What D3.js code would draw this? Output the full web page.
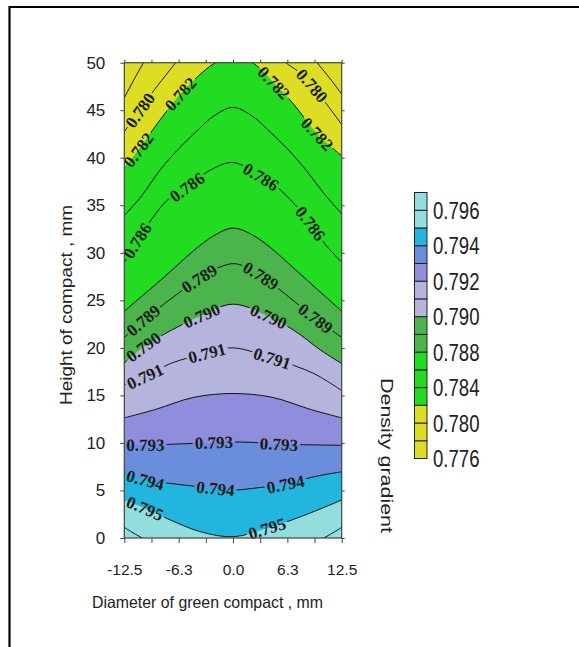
<!DOCTYPE html>
<html><head><meta charset="utf-8">
<script src="https://cdn.jsdelivr.net/npm/d3@7"></script>
<style>body{margin:0;background:#fff}svg{display:block}</style>
</head><body>
<script>
// ---------- data ----------
const xTickValues = [-12.5,-9.375,-6.25,-3.125,0,3.125,6.25,9.375,12.5];
const xTickLabels = ["-12.5","","-6.3","","0.0","","6.3","","12.5"];
const yTickValues = [0,5,10,15,20,25,30,35,40,45,50];
const colorbarLevels = [0.776,0.778,0.780,0.782,0.784,0.786,0.788,0.789,0.790,0.791,0.792,0.793,0.794,0.795,0.796,0.797];
const colorbarTickLevels = [0.776,0.780,0.784,0.788,0.790,0.792,0.794,0.796];
const colorbarTickLabels = ["0.776","0.780","0.784","0.788","0.790","0.792","0.794","0.796"];
const fillThresholds = [0.782,0.788,0.790,0.792,0.793,0.794,0.795];
const palette = ["#dddd24","#22dc22","#4cb44c","#b4b4dc","#8e8edc","#6b8edc","#22b5dd","#94dddd"];

// contour lines: [diameter, height]
const c0778a = [[-12.5,46.3],[-11.4,48.2],[-10.3,50.0],[-10.0,50.5]];
const c0778b = [[9.4,50.5],[9.7,50.0],[11.1,48.4],[12.5,46.7]];
const c0780a = [[-12.5,42.75],[-10.7,45.0],[-9.5,46.6],[-7.8,48.6],[-6.6,50.0],[-6.1,50.6]];
const c0780b = [[5.6,50.6],[6.1,50.0],[7.6,49.0],[9.1,47.6],[10.8,45.6],[12.5,43.5]];
const c0782 = [[-12.5,38.95],[-10.9,40.8],[-8.7,43.6],[-6.05,46.7],[-4.1,48.5],[-2.2,49.9],[0,50.7],[2.4,49.9],[4.7,47.9],[7.0,45.6],[9.7,42.5],[12.5,40.2]];
const c0784 = [[-12.5,33.9],[-10.5,36.0],[-8.4,38.7],[-6.3,40.9],[-4.4,42.6],[-2.2,44.4],[0,45.3],[2.2,44.4],[4.4,42.6],[6.3,40.9],[8.4,38.7],[10.5,36.2],[12.5,34.1]];
const c0786 = [[-12.5,29.0],[-11.0,31.3],[-9.3,33.6],[-7.6,35.5],[-5.3,36.9],[-3.0,38.5],[0,39.5],[3.2,38.0],[5.2,36.8],[7.0,35.2],[8.9,33.1],[10.6,30.9],[12.5,29.0]];
const c0788 = [[-12.5,23.85],[-10.4,25.5],[-8.35,27.1],[-6.4,28.7],[-4.5,30.25],[-2.2,31.8],[0,32.6],[2.4,31.8],[4.7,30.25],[6.6,28.7],[8.55,27.1],[10.5,25.5],[12.5,23.85]];
const c0789 = [[-12.5,21.1],[-10.3,22.9],[-6.8,25.4],[-3.9,27.3],[-1.5,28.5],[0.3,28.85],[3.2,27.6],[6.5,25.3],[9.5,23.1],[12.5,21.1]];
const c0790 = [[-12.5,18.4],[-10.3,20.1],[-7.0,21.9],[-3.6,23.4],[0,24.6],[4.1,23.3],[7.0,21.85],[10.1,19.75],[12.5,18.35]];
const c0791 = [[-12.5,16.1],[-10.1,17.0],[-7.2,18.35],[-3.0,19.45],[0,20.0],[4.5,18.9],[9.3,17.3],[12.5,15.5]];
const c0792 = [[-12.5,12.64],[-9.0,13.5],[-4.5,14.8],[0,15.2],[4.5,14.8],[9.0,13.5],[12.5,12.64]];
const c0793 = [[-12.5,9.87],[-10.1,9.8],[-6.0,9.9],[-2.2,10.05],[0,10.1],[2.5,10.05],[5.3,9.87],[9.0,9.8],[12.5,9.75]];
const c0794 = [[-12.5,6.97],[-10.1,6.1],[-7.2,5.74],[-2.0,5.2],[0,5.04],[3.0,5.3],[6.05,5.67],[9.3,6.44],[12.5,6.97]];
const c0795 = [[-12.5,4.0],[-10.1,3.12],[-7.2,1.89],[-3.74,0.66],[0,0.14],[3.94,1.02],[7.8,2.25],[10.85,3.36],[12.5,4.0]];
const c0796a = [[-12.5,1.12],[-11.5,0.55],[-10.46,0.0],[-10.2,-0.2]];
const c0796b = [[10.2,-0.2],[10.46,0.0],[11.5,0.55],[12.5,1.12]];

const labels0780a = [-10.7];
const labels0780b = [9.1];
const labels0782 = [-10.9,-6.05,4.7,9.7];
const labels0786 = [-11.0,-5.3,3.2,8.9];
const labels0789 = [-10.3,-3.9,3.2,9.5];
const labels0790 = [-10.3,-3.6,4.1];
const labels0791 = [-10.1,-3.0,4.5];
const labels0793 = [-10.1,-2.2,5.3];
const labels0794 = [-10.1,-2.0,6.05];
const labels0795 = [-10.1,3.9];

const contours = [
  {level:0.778, pts:c0778a, labels:[]},
  {level:0.778, pts:c0778b, labels:[]},
  {level:0.780, pts:c0780a, labels:labels0780a},
  {level:0.780, pts:c0780b, labels:labels0780b},
  {level:0.782, pts:c0782, labels:labels0782, full:true},
  {level:0.784, pts:c0784, labels:[], full:true},
  {level:0.786, pts:c0786, labels:labels0786, full:true},
  {level:0.788, pts:c0788, labels:[], full:true},
  {level:0.789, pts:c0789, labels:labels0789, full:true},
  {level:0.790, pts:c0790, labels:labels0790, full:true},
  {level:0.791, pts:c0791, labels:labels0791, full:true},
  {level:0.792, pts:c0792, labels:[], full:true},
  {level:0.793, pts:c0793, labels:labels0793, full:true},
  {level:0.794, pts:c0794, labels:labels0794, full:true},
  {level:0.795, pts:c0795, labels:labels0795, full:true},
  {level:0.796, pts:c0796a, labels:[]},
  {level:0.796, pts:c0796b, labels:[]}
];

// ---------- drawing ----------
const W = 579, H = 647;
const svg = d3.select("body").append("svg").attr("width", W).attr("height", H);
const sans = "'Liberation Sans', Arial, Helvetica, sans-serif";

// outer frame (clipped on right/bottom)
svg.append("path").attr("d", "M9.5,700V7H640").attr("fill","none").attr("stroke","#000").attr("stroke-width",2.2);

const x = d3.scaleLinear().domain([-12.5,12.5]).range([124.3,341.7]);
const y = d3.scaleLinear().domain([0,50]).range([538,62.7]);
const color = d3.scaleThreshold().domain(fillThresholds).range(palette);

const defs = svg.append("defs");
defs.append("clipPath").attr("id","plotclip").append("rect")
  .attr("x", x(-12.5)).attr("y", y(50)).attr("width", x(12.5)-x(-12.5)).attr("height", y(0)-y(50));

const lineGen = d3.line().x(d=>x(d[0])).y(d=>y(d[1])).curve(d3.curveCatmullRom.alpha(0.5));

// fills
const gFill = svg.append("g").attr("clip-path","url(#plotclip)");
gFill.append("rect").attr("x", x(-12.5)).attr("y", y(50)).attr("width", x(12.5)-x(-12.5)).attr("height", y(0)-y(50))
  .attr("fill", color(colorbarLevels[0]));
fillThresholds.forEach(t => {
  const c = contours.find(cc => cc.full && cc.level === t);
  const d = lineGen(c.pts) + `L${x(12.5)+6},${y(0)+6}L${x(-12.5)-6},${y(0)+6}Z`;
  gFill.append("path").attr("d", d).attr("fill", color(t));
});

// mask for label gaps
const mask = defs.append("mask").attr("id","labelmask").attr("maskUnits","userSpaceOnUse")
  .attr("x",0).attr("y",0).attr("width",W).attr("height",H);
mask.append("rect").attr("x",0).attr("y",0).attr("width",W).attr("height",H).attr("fill","#fff");

const gLinesOuter = svg.append("g").attr("clip-path","url(#plotclip)");
const gLines = gLinesOuter.append("g").attr("mask","url(#labelmask)");
const gLabels = svg.append("g");

contours.forEach(c => {
  const p = gLines.append("path").attr("d", lineGen(c.pts)).attr("fill","none")
    .attr("stroke","#000").attr("stroke-width",0.9);
  const node = p.node();
  const L = node.getTotalLength();
  c.labels.forEach(lx => {
    const tx = x(lx);
    let best = 0, bestD = Infinity;
    for (let i = 0; i <= 600; i++) {
      const pt = node.getPointAtLength(L*i/600);
      const dd = Math.abs(pt.x - tx);
      if (dd < bestD) { bestD = dd; best = L*i/600; }
    }
    const pc = node.getPointAtLength(best);
    const p1 = node.getPointAtLength(Math.max(0, best-5));
    const p2 = node.getPointAtLength(Math.min(L, best+5));
    let ang = Math.atan2(p2.y-p1.y, p2.x-p1.x)*180/Math.PI;
    if (ang > 90) ang -= 180;
    if (ang < -90) ang += 180;
    const t = gLabels.append("text")
      .attr("transform", `translate(${pc.x},${pc.y}) rotate(${ang})`)
      .attr("text-anchor","middle").attr("dy","0.35em")
      .attr("font-family","'Liberation Serif','Times New Roman',serif")
      .attr("font-weight","bold").attr("font-size","17px").attr("fill","#1a1a1a")
      .text(d3.format(".3f")(c.level));
    const w = t.node().getComputedTextLength();
    mask.append("rect").attr("x",-w/2-2).attr("y",-7).attr("width",w+4).attr("height",14)
      .attr("transform", `translate(${pc.x},${pc.y}) rotate(${ang})`).attr("fill","#000");
  });
});

// axes
const axisColor = "#444";
const gx = svg.append("g").attr("transform",`translate(0,${y(0)})`)
  .call(d3.axisBottom(x).tickValues(xTickValues).tickSize(5).tickPadding(21)
    .tickFormat((d,i)=>xTickLabels[i]));
const gy = svg.append("g").attr("transform",`translate(${x(-12.5)},0)`)
  .call(d3.axisLeft(y).tickValues(yTickValues).tickSize(4).tickPadding(15).tickFormat(d3.format("d")));
const gr = svg.append("g").attr("transform",`translate(${x(12.5)},0)`)
  .call(d3.axisRight(y).tickValues(yTickValues).tickSize(3).tickFormat(""));
const gt = svg.append("g").attr("transform",`translate(0,${y(50)})`)
  .call(d3.axisTop(x).tickValues(xTickValues).tickSize(3).tickFormat(""));
[gx,gy,gr,gt].forEach(g => {
  g.select(".domain").remove();
  g.selectAll(".tick line").attr("stroke",axisColor);
  g.selectAll("text").attr("font-family",sans).attr("fill","#222");
});
gx.selectAll("text").attr("font-size","15.5px");
gy.selectAll("text").attr("font-size","17px");

// plot frame
svg.append("rect").attr("x",x(-12.5)).attr("y",y(50)).attr("width",x(12.5)-x(-12.5)).attr("height",y(0)-y(50))
  .attr("fill","none").attr("stroke",axisColor).attr("stroke-width",1.2);

// axis titles
svg.append("text").attr("x",92).attr("y",608).attr("font-family",sans).attr("font-size","16.5px").attr("fill","#222")
  .attr("textLength",231).attr("lengthAdjust","spacingAndGlyphs")
  .text("Diameter of green compact , mm");
svg.append("text").attr("transform","translate(72,305) rotate(-90)").attr("text-anchor","middle")
  .attr("font-family",sans).attr("font-size","17px").attr("fill","#222")
  .attr("textLength",200).attr("lengthAdjust","spacingAndGlyphs")
  .text("Height of compact , mm");

// colorbar
const cb = d3.scalePoint().domain(colorbarLevels).range([458.5,192.5]);
const gcb = svg.append("g");
const cells = d3.pairs(colorbarLevels);
gcb.selectAll("rect").data(cells).join("rect")
  .attr("x",414.5).attr("width",12.5)
  .attr("y",d=>cb(d[1])).attr("height",d=>cb(d[0])-cb(d[1]))
  .attr("fill",d=>color(d[0])).attr("stroke","#222").attr("stroke-width",1);
gcb.selectAll("text").data(colorbarTickLevels).join("text")
  .attr("x",433).attr("y",d=>cb(d)+8.5)
  .attr("font-family","'Liberation Sans Narrow','Arial Narrow','Liberation Sans',sans-serif")
  .attr("font-size","24px").attr("fill","#222")
  .attr("textLength",46.5).attr("lengthAdjust","spacingAndGlyphs")
  .text((d,i)=>colorbarTickLabels[i]);
svg.append("text").attr("transform","translate(381,455.5) rotate(90)").attr("text-anchor","middle")
  .attr("font-family",sans).attr("font-size","17px").attr("fill","#222")
  .attr("textLength",155).attr("lengthAdjust","spacingAndGlyphs")
  .text("Density gradient");
</script>
</body></html>
